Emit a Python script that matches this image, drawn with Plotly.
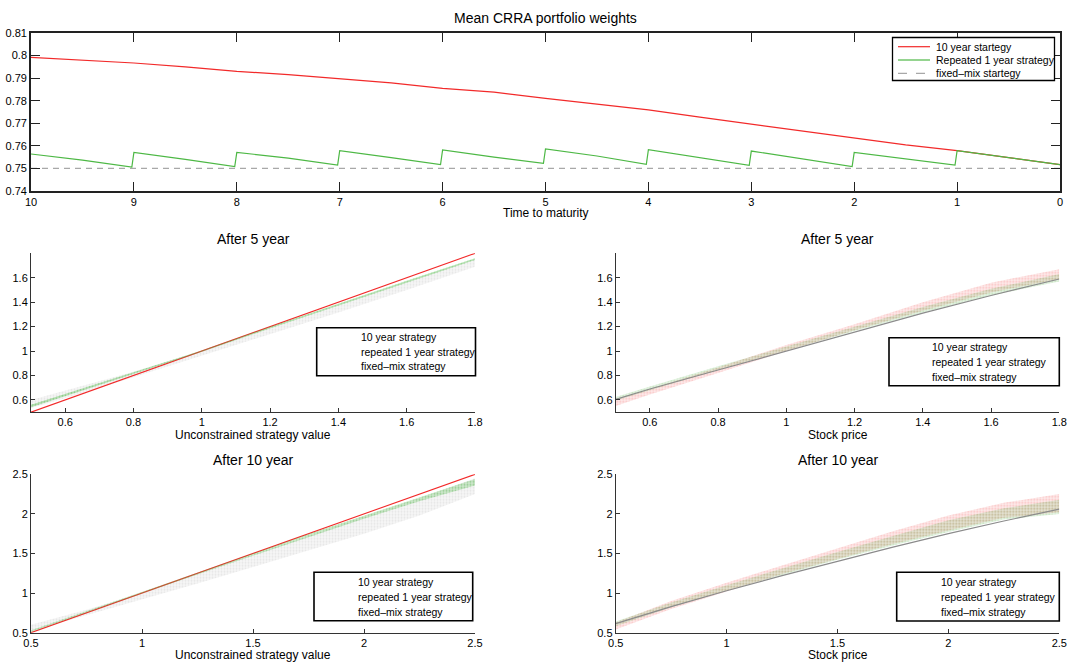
import plotly.graph_objects as go

# ---------------- data ----------------
# Top panel: mean CRRA portfolio weights vs time to maturity
t_red = [10, 9.5, 9, 8.5, 8, 7.5, 7, 6.5, 6, 5.5, 5, 4.5, 4, 3.5, 3, 2.5, 2, 1.5, 1, 0.5, 0]
w_red = [0.7992, 0.7980, 0.7967, 0.7950, 0.7930, 0.7916, 0.7896, 0.7879, 0.7855, 0.7838, 0.7810,
         0.7786, 0.7759, 0.7727, 0.7696, 0.7663, 0.7633, 0.7604, 0.7579, 0.7548, 0.7517]

t_green = [10, 9.5, 9.02, 9, 8.5, 8.02, 8, 7.5, 7.02, 7, 6.5, 6.02, 6, 5.5, 5.02,
           5, 4.5, 4.02, 4, 3.5, 3.02, 3, 2.5, 2.02, 2, 1.5, 1.02, 1, 0.5, 0]
w_green = [0.7564, 0.7537, 0.7506, 0.7571, 0.7540, 0.7508, 0.7571, 0.7546, 0.7515,
           0.7579, 0.7548, 0.7517, 0.7582, 0.7550, 0.7523, 0.7586, 0.7555, 0.7518,
           0.7583, 0.7547, 0.7514, 0.7577, 0.7543, 0.7508, 0.7571, 0.7544, 0.7515,
           0.7579, 0.7548, 0.7517]

t_fixed = [10, 0]
w_fixed = [0.75, 0.75]

top_xticks = [10, 9, 8, 7, 6, 5, 4, 3, 2, 1, 0]
top_yticks = [0.74, 0.75, 0.76, 0.77, 0.78, 0.79, 0.80, 0.81]
top_yticktext = ["0.74", "0.75", "0.76", "0.77", "0.78", "0.79", "0.8", "0.81"]

# After 5 years, vs unconstrained strategy value
ml_x = [0.5, 0.6, 0.8, 1.0, 1.2, 1.4, 1.6, 1.8]
ml_red = [0.5, 0.6, 0.8, 1.0, 1.2, 1.4, 1.6, 1.8]
ml_green_lo = [0.54, 0.630, 0.810, 0.995, 1.185, 1.375, 1.560, 1.745]
ml_green_hi = [0.56, 0.645, 0.825, 1.005, 1.200, 1.390, 1.575, 1.760]
ml_gray_lo = [0.535, 0.615, 0.785, 0.960, 1.140, 1.315, 1.500, 1.690]
ml_gray_hi = [0.600, 0.675, 0.830, 1.000, 1.185, 1.375, 1.565, 1.750]

# After 5 years, vs stock price
mr_x = [0.5, 0.6, 0.8, 1.0, 1.2, 1.4, 1.6, 1.8]
mr_gray = [0.605, 0.690, 0.845, 1.000, 1.155, 1.310, 1.455, 1.590]
mr_green_lo = [0.595, 0.680, 0.845, 1.005, 1.165, 1.315, 1.455, 1.570]
mr_green_hi = [0.625, 0.710, 0.875, 1.040, 1.200, 1.360, 1.510, 1.630]
mr_red_lo = [0.550, 0.645, 0.820, 1.000, 1.170, 1.330, 1.480, 1.590]
mr_red_hi = [0.600, 0.690, 0.865, 1.050, 1.220, 1.400, 1.560, 1.670]

# After 10 years, vs unconstrained strategy value
bl_x = [0.5, 0.75, 1.0, 1.25, 1.5, 1.75, 2.0, 2.25, 2.5]
bl_red = [0.5, 0.75, 1.0, 1.25, 1.5, 1.75, 2.0, 2.25, 2.5]
bl_green_lo = [0.51, 0.755, 0.995, 1.235, 1.47, 1.71, 1.94, 2.16, 2.36]
bl_green_hi = [0.53, 0.770, 1.010, 1.255, 1.50, 1.745, 1.98, 2.21, 2.44]
bl_gray_lo = [0.52, 0.72, 0.92, 1.12, 1.33, 1.54, 1.75, 1.98, 2.25]
bl_gray_hi = [0.60, 0.79, 1.00, 1.24, 1.48, 1.72, 1.97, 2.20, 2.45]

# After 10 years, vs stock price
br_x = [0.5, 0.75, 1.0, 1.25, 1.5, 1.75, 2.0, 2.25, 2.5]
br_gray = [0.615, 0.83, 1.03, 1.22, 1.40, 1.58, 1.75, 1.91, 2.06]
br_green_lo = [0.58, 0.82, 1.03, 1.23, 1.42, 1.60, 1.77, 1.93, 2.00]
br_green_hi = [0.64, 0.88, 1.10, 1.31, 1.52, 1.72, 1.92, 2.07, 2.18]
br_red_lo = [0.54, 0.80, 1.02, 1.24, 1.43, 1.62, 1.79, 1.95, 2.02]
br_red_hi = [0.63, 0.90, 1.13, 1.35, 1.57, 1.78, 1.98, 2.14, 2.25]

ticks5 = [0.6, 0.8, 1.0, 1.2, 1.4, 1.6, 1.8]
ticks5_text = ["0.6", "0.8", "1", "1.2", "1.4", "1.6", "1.8"]
yticks5 = [0.6, 0.8, 1.0, 1.2, 1.4, 1.6]
yticks5_text = ["0.6", "0.8", "1", "1.2", "1.4", "1.6"]
ticks10 = [0.5, 1.0, 1.5, 2.0, 2.5]
ticks10_text = ["0.5", "1", "1.5", "2", "2.5"]

top_legend = ["10 year startegy", "Repeated 1 year strategy", "fixed\u2013mix startegy"]
sub_legend = ["10 year strategy", "repeated 1 year strategy", "fixed\u2013mix strategy"]

# ---------------- styling ----------------
W, H = 1082, 664
FONT = "Liberation Sans, Arial, Helvetica, sans-serif"
RED = "#f22a2a"
GREEN = "#4db845"
GRAY = "#a8a8a8"


def px(x):
    return x / W


def py(y):
    return 1 - y / H


fig = go.Figure()

# Top panel
fig.add_trace(go.Scatter(x=t_red, y=w_red, mode="lines", line=dict(color=RED, width=1.2),
                         xaxis="x", yaxis="y", showlegend=False))
fig.add_trace(go.Scatter(x=t_fixed, y=w_fixed, mode="lines",
                         line=dict(color=GRAY, width=1.2, dash="6px,5px"),
                         xaxis="x", yaxis="y", showlegend=False))
fig.add_trace(go.Scatter(x=t_green, y=w_green, mode="lines", line=dict(color=GREEN, width=1.2),
                         xaxis="x", yaxis="y", showlegend=False))


def band(x, lo, hi, color, fg, ax, ay):
    fig.add_trace(go.Scatter(
        x=list(x) + list(x)[::-1], y=list(lo) + list(hi)[::-1],
        mode="lines", line=dict(width=0), fill="toself", fillcolor=color,
        fillpattern=dict(shape=".", size=3, solidity=0.3, fgcolor=fg, bgcolor=color),
        xaxis=ax, yaxis=ay, showlegend=False, hoverinfo="skip"))


def line(x, y, color, ax, ay, width=1.1):
    fig.add_trace(go.Scatter(x=x, y=y, mode="lines", line=dict(color=color, width=width),
                             xaxis=ax, yaxis=ay, showlegend=False))


# Middle-left
band(ml_x, ml_gray_lo, ml_gray_hi, "rgba(170,170,170,0.10)", "rgba(150,150,150,0.35)", "x2", "y2")
line(ml_x, ml_red, RED, "x2", "y2")
band(ml_x, ml_green_lo, ml_green_hi, "rgba(77,184,69,0.35)", "rgba(77,184,69,0.8)", "x2", "y2")

# Middle-right
band(mr_x, mr_red_lo, mr_red_hi, "rgba(240,60,60,0.10)", "rgba(240,60,60,0.5)", "x3", "y3")
band(mr_x, mr_green_lo, mr_green_hi, "rgba(77,184,69,0.14)", "rgba(90,160,60,0.55)", "x3", "y3")
line(mr_x, mr_gray, "#8c8c8c", "x3", "y3", 1.2)

# Bottom-left
band(bl_x, bl_gray_lo, bl_gray_hi, "rgba(170,170,170,0.10)", "rgba(150,150,150,0.35)", "x4", "y4")
line(bl_x, bl_red, RED, "x4", "y4")
band(bl_x, bl_green_lo, bl_green_hi, "rgba(77,184,69,0.25)", "rgba(77,184,69,0.7)", "x4", "y4")

# Bottom-right
band(br_x, br_red_lo, br_red_hi, "rgba(240,60,60,0.10)", "rgba(240,60,60,0.5)", "x5", "y5")
band(br_x, br_green_lo, br_green_hi, "rgba(77,184,69,0.14)", "rgba(90,160,60,0.55)", "x5", "y5")
line(br_x, br_gray, "#8c8c8c", "x5", "y5", 1.2)

tickfont = dict(family=FONT, size=11, color="black")

top_dom_x = [px(31), px(1060)]
top_dom_y = [py(191), py(33)]
L_dom_x = [px(31), px(475)]
R_dom_x = [px(615.7), px(1059.3)]
M_dom_y = [py(412.2), py(253.3)]
B_dom_y = [py(632.7), py(474.3)]

sub_axis = dict(showline=True, linecolor="#333", linewidth=1, ticks="inside", ticklen=4,
                tickcolor="#333", showgrid=False, zeroline=False, tickfont=tickfont, mirror=False,
                automargin=False)

fig.update_layout(
    width=W, height=H, margin=dict(l=0, r=0, t=0, b=0, pad=0), autosize=False,
    paper_bgcolor="white", plot_bgcolor="white", showlegend=False,
    font=dict(family=FONT, color="black"),
    xaxis=dict(domain=top_dom_x, anchor="y", range=[10, 0], tickvals=top_xticks,
               ticktext=[str(v) for v in top_xticks],
               showline=True, linecolor="#222", linewidth=1.6, mirror="ticks",
               ticks="inside", ticklen=9, tickcolor="#222", tickwidth=1.2,
               showgrid=False, zeroline=False, tickfont=tickfont, automargin=False),
    yaxis=dict(domain=top_dom_y, anchor="x", range=[0.74, 0.81], tickvals=top_yticks,
               ticktext=top_yticktext,
               showline=True, linecolor="#222", linewidth=1.6, mirror="ticks",
               ticks="inside", ticklen=9, tickcolor="#222", tickwidth=1.2,
               showgrid=False, zeroline=False, tickfont=tickfont, automargin=False),
    xaxis2=dict(domain=L_dom_x, anchor="y2", range=[0.5, 1.8], tickvals=ticks5, ticktext=ticks5_text, **sub_axis),
    yaxis2=dict(domain=M_dom_y, anchor="x2", range=[0.5, 1.8], tickvals=yticks5, ticktext=yticks5_text, **sub_axis),
    xaxis3=dict(domain=R_dom_x, anchor="y3", range=[0.5, 1.8], tickvals=ticks5, ticktext=ticks5_text, **sub_axis),
    yaxis3=dict(domain=M_dom_y, anchor="x3", range=[0.5, 1.8], tickvals=yticks5, ticktext=yticks5_text, **sub_axis),
    xaxis4=dict(domain=L_dom_x, anchor="y4", range=[0.5, 2.5], tickvals=ticks10, ticktext=ticks10_text, **sub_axis),
    yaxis4=dict(domain=B_dom_y, anchor="x4", range=[0.5, 2.5], tickvals=ticks10, ticktext=ticks10_text, **sub_axis),
    xaxis5=dict(domain=R_dom_x, anchor="y5", range=[0.5, 2.5], tickvals=ticks10, ticktext=ticks10_text, **sub_axis),
    yaxis5=dict(domain=B_dom_y, anchor="x5", range=[0.5, 2.5], tickvals=ticks10, ticktext=ticks10_text, **sub_axis),
)

annotations = []
shapes = []


def text(x, y, s, size, xanchor="center"):
    annotations.append(dict(x=px(x), y=py(y), xref="paper", yref="paper", text=s, showarrow=False,
                            xanchor=xanchor, yanchor="middle", font=dict(family=FONT, size=size, color="black")))


# Titles and axis labels
text(545.5, 18, "Mean CRRA portfolio weights", 14)
text(545.5, 213, "Time to maturity", 12)
text(253, 239, "After 5 year", 14)
text(837.5, 239, "After 5 year", 14)
text(253, 460, "After 10 year", 14)
text(837.5, 460, "After 10 year", 14)
text(253, 435, "Unconstrained strategy value", 12)
text(837.5, 435, "Stock price", 12)
text(253, 655, "Unconstrained strategy value", 12)
text(837.5, 655, "Stock price", 12)


def box(x0, y0, x1, y1, w=1.5):
    shapes.append(dict(type="rect", xref="paper", yref="paper", x0=px(x0), x1=px(x1), y0=py(y1), y1=py(y0),
                       line=dict(color="black", width=w), fillcolor="white", layer="above"))


# Top legend
box(892.5, 37.5, 1054.5, 80.5, 1.3)
top_rows = [46.7, 60.0, 73.3]
top_styles = [dict(color=RED, width=1.2), dict(color=GREEN, width=1.2), dict(color=GRAY, width=1.2, dash="dash")]
for lab, yy, st in zip(top_legend, top_rows, top_styles):
    shapes.append(dict(type="line", xref="paper", yref="paper", x0=px(898), x1=px(930), y0=py(yy), y1=py(yy),
                       line=st, layer="above"))
    text(934, yy, lab, 10.5, "left")

# Subplot legends
sub_boxes = [
    ((316.7, 327.7, 475.5, 375.7), 359.3, [337.3, 352.0, 366.3]),
    ((889.0, 337.7, 1059.3, 385.7), 930.0, [347.3, 362.3, 376.7]),
    ((314.0, 572.3, 472.7, 620.7), 355.7, [582.3, 597.0, 612.3]),
    ((896.7, 572.3, 1059.3, 621.0), 939.0, [582.3, 597.0, 612.3]),
]
for (x0, y0, x1, y1), tx, rows in sub_boxes:
    box(x0, y0, x1, y1, 1.6)
    for lab, yy in zip(sub_legend, rows):
        text(tx, yy, lab, 10.5, "left")

fig.update_layout(annotations=annotations, shapes=shapes)

# remove the default page margin so the 1082x664 figure fills the window exactly
fig.write_html("out.html", config={"displayModeBar": False},
               post_script="document.body.style.margin='0px';")
